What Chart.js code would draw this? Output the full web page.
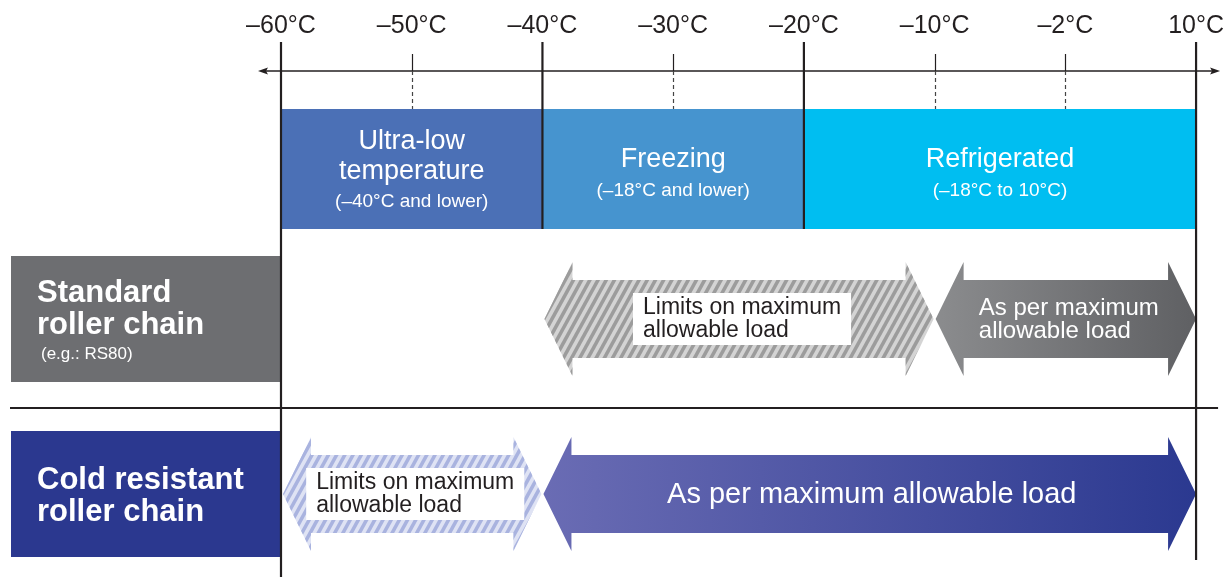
<!DOCTYPE html>
<html><head><meta charset="utf-8">
<script src="https://cdn.jsdelivr.net/npm/chart.js@4"></script>
<style>html,body{margin:0;padding:0;background:#fff;}#wrap{width:1225px;height:577px;}</style>
</head><body><div id="wrap"><canvas id="c" width="1225" height="577"></canvas></div>
<script>
// ---- data ----
const tickTemps = [-60, -50, -40, -30, -20, -10, -2, 10];
const tickLabels = ['–60°C', '–50°C', '–40°C', '–30°C', '–20°C', '–10°C', '–2°C', '10°C'];
const majorTemps = [-60, -40, -20, 10];
const zoneNames = [['Ultra-low', 'temperature'], ['Freezing'], ['Refrigerated']];
const zoneNotes = ['(–40°C and lower)', '(–18°C and lower)', '(–18°C to 10°C)'];
const zoneFrom = [-60, -40, -20];
const zoneTo = [-40, -20, 10];
const chainNames = [['Standard', 'roller chain'], ['Cold resistant', 'roller chain']];
const chainNotes = ['(e.g.: RS80)', ''];
const limitFrom = [-40, -60];
const limitTo = [-10, -40];
const limitText = ['Limits on maximum', 'allowable load'];
const fullFrom = [-10, -40];
const fullTo = [10, 10];
const fullText = [['As per maximum', 'allowable load'], ['As per maximum allowable load']];

// ---- styles / layout ----
const F = '"Liberation Sans", Arial, sans-serif';
const INK = '#231f20';
const zoneColors = ['#4b70b6', '#4694cf', '#00bef1'];
const chainColors = ['#6d6e71', '#2b388f'];
const rowCenter = [319, 494];
const hatchStyles = [{bg: '#d4d4d4', fg: '#9c9c9c'}, {bg: '#dfe3f4', fg: '#a9b3df'}];
const fullGrad = [['#8b8c8e', '#5f6063'], ['#6a6cb4', '#2b3990']];

function tIdx(t) {
  for (let i = 0; i < tickTemps.length - 1; i++) {
    if (t >= tickTemps[i] && t <= tickTemps[i + 1]) return i + (t - tickTemps[i]) / (tickTemps[i + 1] - tickTemps[i]);
  }
  return t < tickTemps[0] ? 0 : tickTemps.length - 1;
}

function arrowPath(ctx, x1, x2, cy, bh, hh, hl) {
  ctx.beginPath();
  ctx.moveTo(x1, cy);
  ctx.lineTo(x1 + hl, cy - hh);
  ctx.lineTo(x1 + hl, cy - bh);
  ctx.lineTo(x2 - hl, cy - bh);
  ctx.lineTo(x2 - hl, cy - hh);
  ctx.lineTo(x2, cy);
  ctx.lineTo(x2 - hl, cy + hh);
  ctx.lineTo(x2 - hl, cy + bh);
  ctx.lineTo(x1 + hl, cy + bh);
  ctx.lineTo(x1 + hl, cy + hh);
  ctx.closePath();
}

const diagram = {
  id: 'diagram',
  afterDraw(chart) {
    const ctx = chart.ctx;
    const xs = chart.scales.x, ys = chart.scales.y;
    const px = t => xs.getPixelForValue(tIdx(t));
    const py = v => ys.getPixelForValue(v);
    const top = chart.chartArea.top;
    ctx.save();
    ctx.textAlign = 'center';
    ctx.textBaseline = 'middle';

    // zone bands
    const bTop = py(109), bBot = py(229);
    for (let i = 0; i < zoneFrom.length; i++) {
      const a = px(zoneFrom[i]), b = px(zoneTo[i]);
      ctx.fillStyle = zoneColors[i];
      ctx.fillRect(a, bTop, b - a, bBot - bTop);
      const cx = (a + b) / 2;
      ctx.fillStyle = '#fff';
      const names = zoneNames[i];
      const lineH = 30;
      const firstY = names.length === 2 ? 142 : 160;
      ctx.font = '27px ' + F;
      names.forEach((n, k) => ctx.fillText(n, cx, py(firstY + k * lineH)));
      ctx.font = '19px ' + F;
      ctx.fillText(zoneNotes[i], cx, py(names.length === 2 ? 202 : 191));
    }

    // axis arrow line
    const ay = py(71);
    ctx.strokeStyle = INK; ctx.fillStyle = INK; ctx.lineWidth = 1.3;
    const lx = px(tickTemps[0]) - 21, rx = px(tickTemps[tickTemps.length - 1]) + 22;
    ctx.beginPath(); ctx.moveTo(lx + 4, ay); ctx.lineTo(rx - 4, ay); ctx.stroke();
    ctx.beginPath(); ctx.moveTo(lx - 2, ay); ctx.lineTo(lx + 8, ay - 3.5); ctx.lineTo(lx + 6, ay); ctx.lineTo(lx + 8, ay + 3.5); ctx.closePath(); ctx.fill();
    ctx.beginPath(); ctx.moveTo(rx + 2, ay); ctx.lineTo(rx - 8, ay - 3.5); ctx.lineTo(rx - 6, ay); ctx.lineTo(rx - 8, ay + 3.5); ctx.closePath(); ctx.fill();

    // minor ticks: solid above axis, dashed below
    tickTemps.forEach(t => {
      if (majorTemps.includes(t)) return;
      const x = Math.round(px(t)) + 0.5;
      ctx.lineWidth = 1.2; ctx.strokeStyle = INK;
      ctx.setLineDash([]);
      ctx.beginPath(); ctx.moveTo(x, py(54)); ctx.lineTo(x, ay); ctx.stroke();
      ctx.setLineDash([4, 3]);
      ctx.strokeStyle = '#444';
      ctx.beginPath(); ctx.moveTo(x, ay); ctx.lineTo(x, bTop); ctx.stroke();
      ctx.setLineDash([]);
    });

    // row label boxes
    for (let r = 0; r < chainNames.length; r++) {
      const cy = py(rowCenter[r]);
      ctx.fillStyle = chainColors[r];
      ctx.fillRect(11, cy - 63, px(tickTemps[0]) - 11, 126);
      ctx.fillStyle = '#fff';
      ctx.textAlign = 'left';
      ctx.font = 'bold 31px ' + F;
      const y0 = r === 0 ? cy - 26 : cy - 14;
      chainNames[r].forEach((n, k) => ctx.fillText(n, 37, y0 + k * 32));
      if (chainNotes[r]) { ctx.font = '17px ' + F; ctx.fillText(chainNotes[r], 41, cy + 35); }
      ctx.textAlign = 'center';
    }

    // separator line
    ctx.strokeStyle = INK; ctx.lineWidth = 2;
    ctx.beginPath(); ctx.moveTo(10, py(408)); ctx.lineTo(rx, py(408)); ctx.stroke();

    // arrows
    const HL = 28, BH = 39, HH = 57;
    for (let r = 0; r < rowCenter.length; r++) {
      const cy = py(rowCenter[r]);
      // hatched "limits" arrow
      const a1 = px(limitFrom[r]) + 2, a2 = px(limitTo[r]) - 1;
      ctx.save();
      arrowPath(ctx, a1, a2, cy, BH, HH, HL);
      ctx.fillStyle = hatchStyles[r].bg; ctx.fill();
      ctx.clip();
      ctx.strokeStyle = hatchStyles[r].fg; ctx.lineWidth = 3.6;
      const h = 2 * HH;
      for (let x = a1 - h; x < a2 + 10; x += 8.2) {
        ctx.beginPath(); ctx.moveTo(x, cy + HH); ctx.lineTo(x + h * 0.55, cy - HH); ctx.stroke();
      }
      ctx.restore();
      // white label box
      ctx.font = '23px ' + F;
      const tw = Math.max(...limitText.map(s => ctx.measureText(s).width));
      const cxl = (a1 + a2) / 2 + 3;
      ctx.fillStyle = '#fff';
      ctx.fillRect(cxl - tw / 2 - 10, cy - 26, tw + 20, 52);
      ctx.fillStyle = INK; ctx.textAlign = 'left';
      limitText.forEach((s, k) => ctx.fillText(s, cxl - tw / 2, cy - 11 + k * 23));
      ctx.textAlign = 'center';

      // full-load gradient arrow
      const b1 = px(fullFrom[r]) + 1, b2 = px(fullTo[r]);
      const g = ctx.createLinearGradient(b1, 0, b2, 0);
      g.addColorStop(0, fullGrad[r][0]); g.addColorStop(1, fullGrad[r][1]);
      arrowPath(ctx, b1, b2, cy, BH, HH, HL);
      ctx.fillStyle = g; ctx.fill();
      ctx.fillStyle = '#fff';
      const lines = fullText[r];
      if (lines.length === 2) {
        ctx.font = '24px ' + F;
        const w = Math.max(...lines.map(s => ctx.measureText(s).width));
        const cxf = (b1 + b2) / 2 + 3;
        ctx.textAlign = 'left';
        lines.forEach((s, k) => ctx.fillText(s, cxf - w / 2, cy - 11 + k * 23));
        ctx.textAlign = 'center';
      } else {
        ctx.font = '29px ' + F;
        ctx.fillText(lines[0], (b1 + b2) / 2 + 2, cy + 1);
      }
    }

    // major vertical lines
    ctx.strokeStyle = INK; ctx.lineWidth = 2.2;
    const majorEnds = [577, 229, 229, 560];
    majorTemps.forEach((t, i) => {
      const x = px(t);
      ctx.beginPath(); ctx.moveTo(x, top); ctx.lineTo(x, py(majorEnds[i])); ctx.stroke();
    });
    ctx.restore();
  }
};

new Chart(document.getElementById('c'), {
  type: 'scatter',
  data: { datasets: [{ data: [], showLine: false }] },
  options: {
    responsive: false,
    animation: false,
    events: [],
    layout: { padding: { left: 281, right: 24, top: 0, bottom: 0 } },
    plugins: { legend: { display: false }, tooltip: { enabled: false } },
    scales: {
      x: {
        type: 'linear', position: 'top', min: 0, max: tickTemps.length - 1,
        afterBuildTicks: s => { s.ticks = tickTemps.map((t, i) => ({ value: i })); },
        afterFit: s => { s.height = 42; },
        grid: { display: false, drawTicks: false }, border: { display: false },
        ticks: {
          autoSkip: false, maxRotation: 0, padding: 1, color: INK,
          font: { family: F, size: 25 },
          callback: v => tickLabels[v]
        }
      },
      y: { type: 'linear', min: 42, max: 577, reverse: true, display: false }
    }
  },
  plugins: [diagram]
});
</script>
</body></html>
